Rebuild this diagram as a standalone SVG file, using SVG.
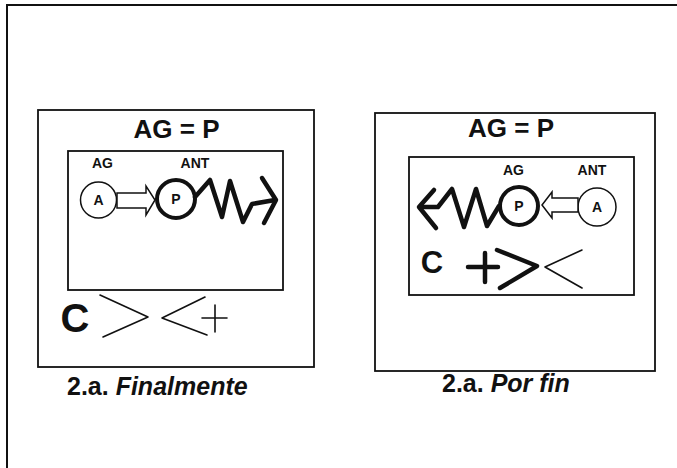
<svg xmlns="http://www.w3.org/2000/svg" width="677" height="468" viewBox="0 0 677 468">
<style>
.box{fill:none;stroke:#111;stroke-width:1.8}
.t{font-family:"Liberation Sans",Arial,sans-serif;font-weight:bold;fill:#111}
.title{font-size:26px;text-anchor:middle}
.lab{font-size:14px;text-anchor:middle}
.cap{font-size:25px}
.thin{fill:none;stroke:#111;stroke-width:1.6;stroke-linecap:round;stroke-linejoin:round}
.thick{fill:none;stroke:#111;stroke-width:4.5;stroke-linecap:round;stroke-linejoin:round}
.ring{fill:#fff;stroke:#111;stroke-width:4}
.ringthin{fill:#fff;stroke:#111;stroke-width:1.5}
.blk{fill:#fff;stroke:#111;stroke-width:1.5;stroke-linejoin:miter}
</style>
<rect width="677" height="468" fill="#fff"/>
<path d="M7,468 V5 H677" fill="none" stroke="#111" stroke-width="2"/>

<g id="panel-left">
  <rect class="box" x="38" y="110" width="276" height="257"/>
  <text class="t title" x="176.5" y="138">AG = P</text>
  <rect class="box" x="68" y="151" width="215" height="139"/>
  <text class="t lab" x="102.5" y="168">AG</text>
  <text class="t lab" x="195" y="168">ANT</text>
  <g id="left-A">
    <circle class="ringthin" cx="98.5" cy="200" r="18"/>
    <text class="t lab" x="98.5" y="205">A</text>
  </g>
  <path class="blk" d="M117,193 H146 V186 L155,200 L146,215 V208 H117 Z"/>
  <g id="left-P">
    <circle class="ring" cx="176" cy="199" r="19"/>
    <text class="t lab" x="176" y="204">P</text>
  </g>
  <path class="thick" d="M195,197 L210,180 L222,217 L230,181 L243,222 L252,204 L275,200"/>
  <path class="thick" d="M262,178 L276,200 L264,223"/>
  <text class="t" x="75" y="332" font-size="40" text-anchor="middle">C</text>
  <path class="thin" d="M100,295 L148,317 L103,337"/>
  <path class="thin" d="M205,297 L162,318 L207,335"/>
  <path class="thin" d="M202,318 H227 M215,305 V332"/>
  <text class="t cap" x="67" y="395">2.a. <tspan font-style="italic">Finalmente</tspan></text>
</g>

<g id="panel-right">
  <rect class="box" x="375" y="113" width="280" height="258"/>
  <text class="t title" x="511" y="137">AG = P</text>
  <rect class="box" x="409" y="157" width="225" height="138"/>
  <text class="t lab" x="513.5" y="175">AG</text>
  <text class="t lab" x="592" y="175">ANT</text>
  <g id="right-A">
    <circle class="ringthin" cx="597" cy="207" r="19"/>
    <text class="t lab" x="597" y="212">A</text>
  </g>
  <path class="blk" d="M578,198 H552 V192 L542,205 L552,218 V212 H578 Z"/>
  <g id="right-P">
    <circle class="ring" cx="519" cy="206" r="19"/>
    <text class="t lab" x="519" y="211">P</text>
  </g>
  <path class="thick" d="M420,207 L438,207 L452,189 L464,227 L476,189 L487,226 L499,206"/>
  <path class="thick" d="M434,190 L419,207 L436,228"/>
  <text class="t" x="432" y="273" font-size="31" text-anchor="middle">C</text>
  <path class="thick" d="M468,267 H498 M485,253 V282"/>
  <path class="thick" d="M497,250 L537,266 L500,288"/>
  <path class="thin" d="M582,250 L545,267 L582,288"/>
  <text class="t cap" x="442" y="392">2.a. <tspan font-style="italic">Por fin</tspan></text>
</g>
<g id="connectors"/>
</svg>
